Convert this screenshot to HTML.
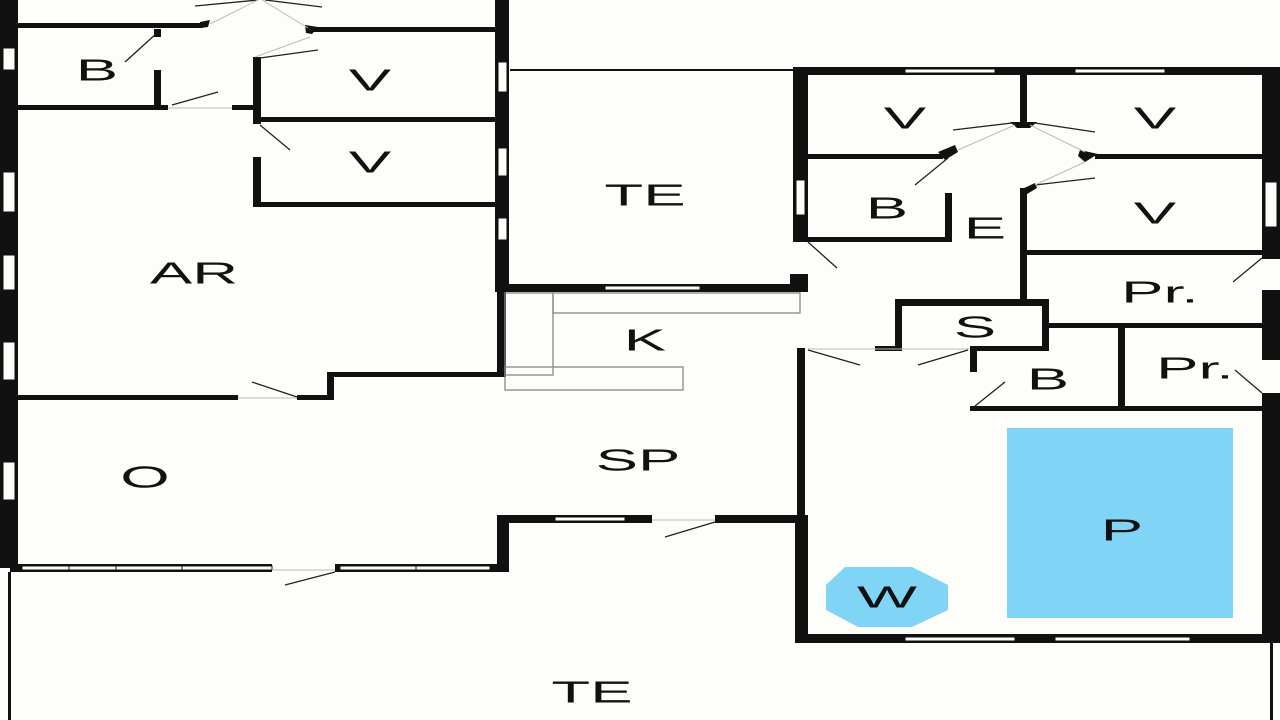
<!DOCTYPE html>
<html><head><meta charset="utf-8"><style>
html,body{margin:0;padding:0;background:#fdfdf9;}
svg{display:block}
text{font-family:"Liberation Sans",sans-serif;font-size:31px;fill:#111;text-anchor:middle;dominant-baseline:central}
</style></head><body>
<svg width="1280" height="720" viewBox="0 0 1280 720" xmlns="http://www.w3.org/2000/svg">
<rect width="1280" height="720" fill="#fdfdf9"/>
<g fill="#111">
<rect x="0" y="0" width="18" height="568"/>
<rect x="495" y="0" width="14" height="292"/>
<rect x="18" y="23" width="185" height="5"/>
<rect x="312" y="27" width="185" height="5"/>
<polygon points="200,22 210,20 208,27 200,28"/>
<polygon points="305,25 318,27 312,34 306,33"/>
<rect x="154" y="29" width="7" height="8"/>
<rect x="154" y="70" width="7" height="38"/>
<rect x="18" y="105" width="150" height="5"/>
<rect x="232" y="105" width="26" height="5"/>
<rect x="253" y="57" width="8" height="67"/>
<rect x="253" y="157" width="8" height="50"/>
<rect x="258" y="117" width="238" height="5"/>
<rect x="258" y="202" width="238" height="5"/>
<rect x="18" y="395" width="220" height="5"/>
<rect x="297" y="395" width="36" height="5"/>
<rect x="327" y="372" width="7" height="28"/>
<rect x="330" y="372" width="175" height="5"/>
<rect x="497" y="290" width="9" height="87"/>
<rect x="510" y="69" width="288" height="2"/>
<rect x="505" y="284" width="303" height="8"/>
<rect x="793" y="67" width="487" height="8"/>
<rect x="793" y="67" width="15" height="175"/>
<rect x="790" y="274" width="18" height="16"/>
<rect x="1262" y="67" width="18" height="192"/>
<rect x="1262" y="290" width="18" height="70"/>
<rect x="1262" y="393" width="18" height="250"/>
<rect x="1020" y="75" width="7" height="50"/>
<rect x="808" y="154" width="135" height="5"/>
<rect x="1095" y="154" width="167" height="5"/>
<polygon points="938,152 955,145 958,152 945,160"/>
<polygon points="1080,150 1098,154 1085,162 1078,156"/>
<polygon points="1010,122 1037,122 1030,128 1017,128"/>
<rect x="945" y="193" width="7" height="49"/>
<rect x="808" y="237" width="144" height="5"/>
<rect x="1020" y="188" width="7" height="112"/>
<polygon points="1020,190 1035,183 1037,188 1027,194"/>
<rect x="1027" y="250" width="235" height="5"/>
<rect x="895" y="299" width="153" height="7"/>
<rect x="895" y="299" width="7" height="52"/>
<rect x="875" y="346" width="25" height="5"/>
<rect x="1042" y="299" width="7" height="52"/>
<rect x="970" y="346" width="79" height="5"/>
<rect x="1048" y="323" width="214" height="5"/>
<rect x="1118" y="323" width="7" height="88"/>
<rect x="970" y="350" width="7" height="22"/>
<rect x="970" y="406" width="292" height="5"/>
<rect x="797" y="348" width="8" height="170"/>
<rect x="795" y="515" width="13" height="128"/>
<rect x="795" y="634" width="485" height="9"/>
<rect x="1270" y="643" width="3" height="77"/>
<rect x="497" y="515" width="155" height="8"/>
<rect x="715" y="515" width="85" height="8"/>
<rect x="497" y="515" width="12" height="57"/>
<rect x="10" y="564" width="262" height="8"/>
<rect x="335" y="564" width="174" height="8"/>
<rect x="8" y="572" width="3" height="148"/>
</g>
<g fill="#fdfdf9" stroke="#111" stroke-width="1">
<rect x="3" y="48" width="12" height="22"/>
<rect x="3" y="172" width="12" height="40"/>
<rect x="3" y="255" width="12" height="35"/>
<rect x="3" y="342" width="12" height="38"/>
<rect x="3" y="462" width="12" height="38"/>
<rect x="498" y="62" width="9" height="30"/>
<rect x="498" y="148" width="9" height="28"/>
<rect x="498" y="218" width="9" height="22"/>
<rect x="605" y="286" width="95" height="4"/>
<rect x="905" y="69" width="90" height="4"/>
<rect x="1075" y="69" width="90" height="4"/>
<rect x="796" y="180" width="9" height="35"/>
<rect x="1265" y="182" width="12" height="45"/>
<rect x="22" y="566" width="250" height="4"/>
<rect x="340" y="566" width="150" height="4"/>
<rect x="555" y="517" width="70" height="4"/>
<rect x="905" y="637" width="110" height="4"/>
<rect x="1055" y="637" width="135" height="4"/>
</g>
<g stroke="#111" stroke-width="1" fill="none">
<line x1="69" y1="570" x2="69" y2="566"/><line x1="116" y1="570" x2="116" y2="566"/><line x1="182" y1="570" x2="182" y2="566"/>
<line x1="416" y1="570" x2="416" y2="566"/>
<line x1="1035" y1="641" x2="1035" y2="637"/>
</g>
<g stroke="#888" stroke-width="1.3" fill="none">
<rect x="553" y="293" width="247" height="20"/>
<rect x="505" y="293" width="48" height="82"/>
<rect x="505" y="367" width="178" height="23"/>
</g>
<g stroke="#222" stroke-width="1.3">
<line x1="125" y1="62" x2="157" y2="33"/>
<line x1="172" y1="105" x2="218" y2="92"/>
<line x1="260" y1="58" x2="318" y2="50"/>
<line x1="260" y1="125" x2="290" y2="150"/>
<line x1="195" y1="6" x2="258" y2="0"/>
<line x1="265" y1="0" x2="322" y2="7"/>
<line x1="252" y1="382" x2="297" y2="397"/>
<line x1="285" y1="585" x2="335" y2="572"/>
<line x1="665" y1="537" x2="715" y2="522"/>
<line x1="808" y1="242" x2="837" y2="268"/>
<line x1="953" y1="130" x2="1012" y2="123"/>
<line x1="1035" y1="123" x2="1095" y2="132"/>
<line x1="915" y1="185" x2="948" y2="158"/>
<line x1="1035" y1="185" x2="1095" y2="178"/>
<line x1="1233" y1="282" x2="1262" y2="258"/>
<line x1="1235" y1="370" x2="1262" y2="393"/>
<line x1="808" y1="350" x2="860" y2="365"/>
<line x1="918" y1="365" x2="968" y2="350"/>
<line x1="975" y1="406" x2="1005" y2="382"/>
</g>
<g stroke="#bbb" stroke-width="1">
<line x1="210" y1="24" x2="258" y2="0"/>
<line x1="262" y1="0" x2="308" y2="28"/>
<line x1="255" y1="57" x2="310" y2="37"/>
<line x1="958" y1="150" x2="1015" y2="125"/>
<line x1="1030" y1="125" x2="1085" y2="152"/>
<line x1="1035" y1="185" x2="1085" y2="162"/>
<line x1="168" y1="108" x2="232" y2="108"/>
<line x1="238" y1="398" x2="297" y2="398"/>
<line x1="272" y1="570" x2="335" y2="570"/>
<line x1="652" y1="520" x2="715" y2="520"/>
<line x1="808" y1="349" x2="970" y2="349"/>
</g>
<rect x="1007" y="428" width="226" height="190" fill="#80d4f6"/>
<polygon points="845,567 912,567 948,585 948,610 912,627 858,627 826,610 826,585" fill="#80d4f6"/>
<g>
<text transform="translate(97 70) scale(2.05 1)">B</text>
<text transform="translate(370 80) scale(2.05 1)">V</text>
<text transform="translate(370 162) scale(2.05 1)">V</text>
<text transform="translate(194 273) scale(2.05 1)">AR</text>
<text transform="translate(645 195) scale(2.05 1)">TE</text>
<text transform="translate(645 340) scale(2.05 1)">K</text>
<text transform="translate(638 460) scale(2.05 1)">SP</text>
<text transform="translate(145 477) scale(2.05 1)">O</text>
<text transform="translate(592 692) scale(2.05 1)">TE</text>
<text transform="translate(905 118) scale(2.05 1)">V</text>
<text transform="translate(1155 118) scale(2.05 1)">V</text>
<text transform="translate(887 208) scale(2.05 1)">B</text>
<text transform="translate(985 228) scale(2.05 1)">E</text>
<text transform="translate(1155 213) scale(2.05 1)">V</text>
<text transform="translate(1160 292) scale(2.05 1)">Pr.</text>
<text transform="translate(975 327) scale(2.05 1)">S</text>
<text transform="translate(1048 379) scale(2.05 1)">B</text>
<text transform="translate(1195 368) scale(2.05 1)">Pr.</text>
<text transform="translate(1122 530) scale(2.05 1)">P</text>
<text transform="translate(887 597) scale(2.05 1)">W</text>
</g>
</svg>
</body></html>
